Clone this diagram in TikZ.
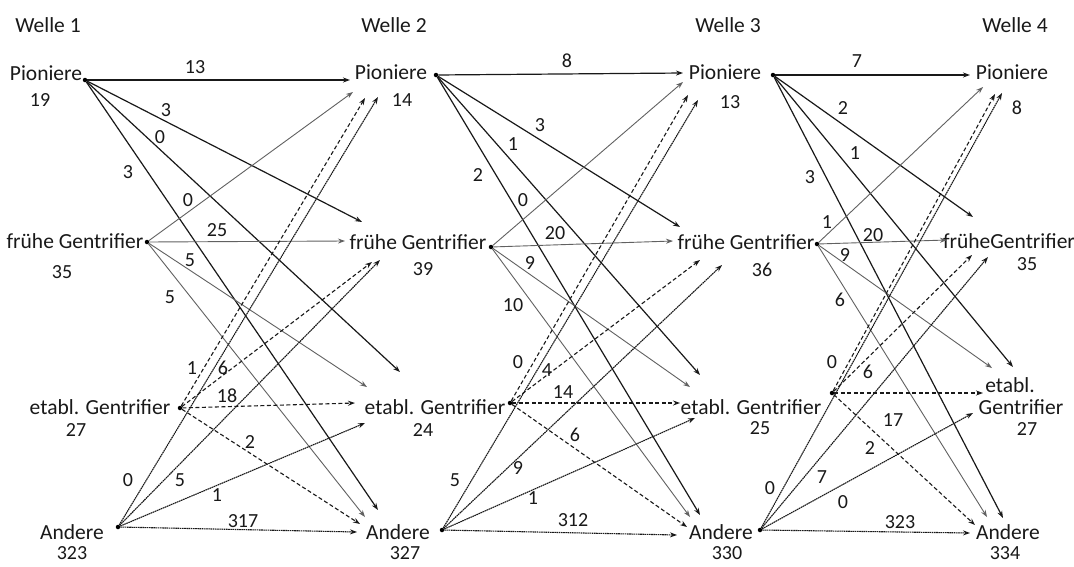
\documentclass[tikz,border=0pt]{standalone}
\usepackage{fontspec}
\setmainfont{Carlito}
\usetikzlibrary{arrows.meta}
\begin{document}
\begin{tikzpicture}[x=1pt,y=-1pt,
  every node/.style={font=\fontsize{20}{22}\selectfont, inner sep=0pt, text=black!90},
  big/.style={font=\fontsize{21.5}{23}\selectfont},
  dotn/.style={circle,fill=black,minimum size=4.5pt,inner sep=0pt},
  tip/.style={-{Stealth[length=7pt,width=5pt]}},
  pline/.style={tip,draw=black!90,line width=1.2pt},
  fline/.style={tip,draw=black!62,line width=0.9pt},
  eline/.style={tip,draw=black!90,line width=1.1pt,dash pattern=on 4pt off 2.5pt},
  aline/.style={tip,draw=black!90,line width=1.1pt,dash pattern=on 1.6pt off 0.6pt},
]
\useasboundingbox (0,0) rectangle (1074,566);
\fill[white] (0,0) rectangle (1074,566);

% headings
\node[big] (w1) at (48,25) {Welle 1};
\node[big] (w2) at (394,25) {Welle 2};
\node[big] (w3) at (728,25) {Welle 3};
\node[big] (w4) at (1015,25) {Welle 4};

% Welle 1 texts
\node[big] (tp1) at (46,73) {Pioniere};        \node (np1) at (40,100) {19};
\node[big] (tf1) at (75,241) {frühe Gentrifier}; \node (nf1) at (62,272) {35};
\node[big] (te1) at (100,407) {etabl. Gentrifier}; \node (ne1) at (76,430) {27};
\node[big] (ta1) at (72,532) {Andere};          \node (na1) at (72,553) {323};
% Welle 2 texts
\node[big] (tp2) at (391,72) {Pioniere};        \node (np2) at (402,100) {14};
\node[big] (tf2) at (418,242) {frühe Gentrifier}; \node (nf2) at (423,269) {39};
\node[big] (te2) at (435,407) {etabl. Gentrifier}; \node (ne2) at (423,430) {24};
\node[big] (ta2) at (398,532) {Andere};          \node (na2) at (405,553) {327};
% Welle 3 texts
\node[big] (tp3) at (725,72) {Pioniere};        \node (np3) at (730,102) {13};
\node[big] (tf3) at (746,242) {frühe Gentrifier}; \node (nf3) at (762,270) {36};
\node[big] (te3) at (751,407) {etabl. Gentrifier}; \node (ne3) at (760,428) {25};
\node[big] (ta3) at (721,532) {Andere};          \node (na3) at (727,553) {330};
% Welle 4 texts
\node[big] (tp4) at (1012,72) {Pioniere};       \node (np4) at (1017,108) {8};
\node[big] (tf4) at (1009,241) {früheGentrifier}; \node (nf4) at (1027,264) {35};
\node[big] (te4a) at (1010,385) {etabl.};
\node[big] (te4b) at (1021,407) {Gentrifier};   \node (ne4) at (1027,429) {27};
\node[big] (ta4) at (1008,532) {Andere};         \node (na4) at (1005,553) {334};

% source dots
\node[dotn] (p1) at (85,80) {};  \node[dotn] (f1) at (147,242) {};
\node[dotn] (e1) at (180,408) {}; \node[dotn] (a1) at (118,527) {};
\node[dotn] (p2) at (436,75) {}; \node[dotn] (f2) at (491,247) {};
\node[dotn] (e2) at (510,403) {}; \node[dotn] (a2) at (442,530) {};
\node[dotn] (p3) at (773,75) {}; \node[dotn] (f3) at (817,244) {};
\node[dotn] (e3) at (832,393) {}; \node[dotn] (a3) at (760,530) {};

% ---------- Stage 1 ----------
\coordinate (s1pp) at (350,80);  \coordinate (s1pf) at (362,222);
\coordinate (s1pe) at (400,372); \coordinate (s1pa) at (378,510);
\coordinate (s1fp) at (353,92);  \coordinate (s1ff) at (345,241);
\coordinate (s1fe) at (367,387); \coordinate (s1fa) at (365,517);
\coordinate (s1ep) at (365,98);  \coordinate (s1ef) at (372,262);
\coordinate (s1ee) at (355,403); \coordinate (s1ea) at (360,524);
\coordinate (s1ap) at (378,97);  \coordinate (s1af) at (380,260);
\coordinate (s1ae) at (365,423); \coordinate (s1aa) at (357,532);

\draw[pline] (p1) -- (s1pp); \draw[pline] (p1) -- (s1pf);
\draw[pline] (p1) -- (s1pe); \draw[pline] (p1) -- (s1pa);
\draw[fline] (f1) -- (s1fp); \draw[fline] (f1) -- (s1ff);
\draw[fline] (f1) -- (s1fe); \draw[fline] (f1) -- (s1fa);
\draw[eline] (e1) -- (s1ep); \draw[eline] (e1) -- (s1ef);
\draw[eline] (e1) -- (s1ee); \draw[eline] (e1) -- (s1ea);
\draw[aline] (a1) -- (s1ap); \draw[aline] (a1) -- (s1af);
\draw[aline] (a1) -- (s1ae); \draw[aline] (a1) -- (s1aa);

\node (l1a) at (195,67) {13}; \node (l1b) at (166,110) {3};
\node (l1c) at (160,137) {0}; \node (l1d) at (128,172) {3};
\node (l1e) at (188,200) {0}; \node (l1f) at (217,230) {25};
\node (l1g) at (190,260) {5}; \node (l1h) at (170,297) {5};
\node (l1i) at (192,368) {1}; \node (l1j) at (223,368) {6};
\node (l1k) at (227,396) {18}; \node (l1l) at (250,442) {2};
\node (l1m) at (128,480) {0}; \node (l1n) at (180,480) {5};
\node (l1o) at (217,495) {1}; \node (l1p) at (243,521) {317};

% ---------- Stage 2 ----------
\coordinate (s2pp) at (683,73);  \coordinate (s2pf) at (680,227);
\coordinate (s2pe) at (700,375); \coordinate (s2pa) at (700,515);
\coordinate (s2fp) at (683,82);  \coordinate (s2ff) at (673,241);
\coordinate (s2fe) at (690,387); \coordinate (s2fa) at (690,517);
\coordinate (s2ep) at (688,95);  \coordinate (s2ef) at (700,260);
\coordinate (s2ee) at (680,403); \coordinate (s2ea) at (687,527);
\coordinate (s2ap) at (698,100); \coordinate (s2af) at (722,265);
\coordinate (s2ae) at (695,418); \coordinate (s2aa) at (677,535);

\draw[pline] (p2) -- (s2pp); \draw[pline] (p2) -- (s2pf);
\draw[pline] (p2) -- (s2pe); \draw[pline] (p2) -- (s2pa);
\draw[fline] (f2) -- (s2fp); \draw[fline] (f2) -- (s2ff);
\draw[fline] (f2) -- (s2fe); \draw[fline] (f2) -- (s2fa);
\draw[eline] (e2) -- (s2ep); \draw[eline] (e2) -- (s2ef);
\draw[eline] (e2) -- (s2ee); \draw[eline] (e2) -- (s2ea);
\draw[aline] (a2) -- (s2ap); \draw[aline] (a2) -- (s2af);
\draw[aline] (a2) -- (s2ae); \draw[aline] (a2) -- (s2aa);

\node (l2a) at (567,61) {8};  \node (l2b) at (540,125) {3};
\node (l2c) at (513,144) {1}; \node (l2d) at (478,175) {2};
\node (l2e) at (523,200) {0}; \node (l2f) at (555,233) {20};
\node (l2g) at (530,263) {9}; \node (l2h) at (513,305) {10};
\node (l2i) at (518,362) {0}; \node (l2j) at (547,370) {4};
\node (l2k) at (563,392) {14}; \node (l2l) at (575,435) {6};
\node (l2m) at (455,480) {5}; \node (l2n) at (518,468) {9};
\node (l2o) at (533,498) {1}; \node (l2p) at (573,520) {312};

% ---------- Stage 3 ----------
\coordinate (s3pp) at (970,75);   \coordinate (s3pf) at (973,217);
\coordinate (s3pe) at (1013,367); \coordinate (s3pa) at (1003,518);
\coordinate (s3fp) at (983,87);   \coordinate (s3ff) at (947,240);
\coordinate (s3fe) at (992,368);  \coordinate (s3fa) at (987,517);
\coordinate (s3ep) at (995,94);   \coordinate (s3ef) at (972,255);
\coordinate (s3ee) at (983,393);  \coordinate (s3ea) at (975,525);
\coordinate (s3ap) at (1002,93);  \coordinate (s3af) at (988,257);
\coordinate (s3ae) at (973,413);  \coordinate (s3aa) at (970,533);

\draw[pline] (p3) -- (s3pp); \draw[pline] (p3) -- (s3pf);
\draw[pline] (p3) -- (s3pe); \draw[pline] (p3) -- (s3pa);
\draw[fline] (f3) -- (s3fp); \draw[fline] (f3) -- (s3ff);
\draw[fline] (f3) -- (s3fe); \draw[fline] (f3) -- (s3fa);
\draw[eline] (e3) -- (s3ep); \draw[eline] (e3) -- (s3ef);
\draw[eline] (e3) -- (s3ee); \draw[eline] (e3) -- (s3ea);
\draw[aline] (a3) -- (s3ap); \draw[aline] (a3) -- (s3af);
\draw[aline] (a3) -- (s3ae); \draw[aline] (a3) -- (s3aa);

\node (l3a) at (857,61) {7};  \node (l3b) at (843,108) {2};
\node (l3c) at (855,153) {1}; \node (l3d) at (810,177) {3};
\node (l3e) at (827,222) {1}; \node (l3f) at (873,235) {20};
\node (l3g) at (845,255) {9}; \node (l3h) at (840,300) {6};
\node (l3i) at (832,362) {0}; \node (l3j) at (868,372) {6};
\node (l3k) at (893,420) {17}; \node (l3l) at (870,448) {2};
\node (l3m) at (770,488) {0}; \node (l3n) at (822,477) {7};
\node (l3o) at (843,502) {0}; \node (l3p) at (900,522) {323};
\end{tikzpicture}
\end{document}
